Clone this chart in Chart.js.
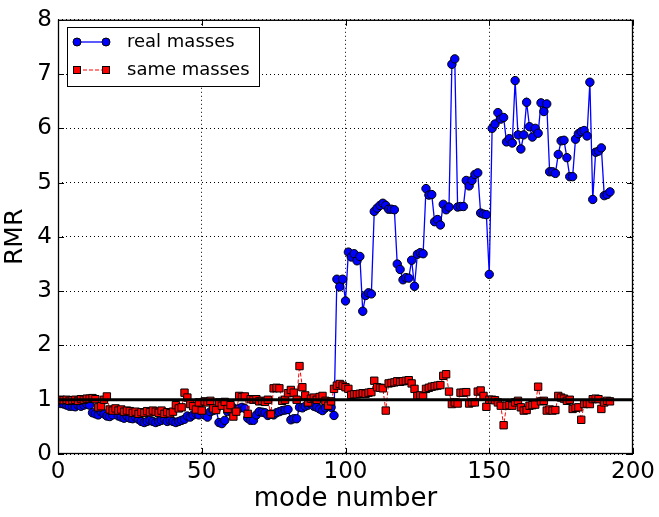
<!DOCTYPE html>
<html>
<head>
<meta charset="utf-8">
<script src="https://cdn.jsdelivr.net/npm/chart.js@4"></script>
<style>
  html, body { margin: 0; padding: 0; background: #fff; }
  #rmr { display: block; }
</style>
</head>
<body>
<canvas id="rmr" width="659" height="517"></canvas>
<script>
// mode index 1..192
const modes = Array.from({length: 192}, (_, i) => i + 1);

const realMasses = [
  0.93, 0.92, 0.90, 0.88, 0.88, 0.87, 0.90, 0.88, 0.90, 0.92,
  0.90, 0.76, 0.74, 0.72, 0.78, 0.74, 0.70, 0.69, 0.72, 0.82,
  0.70, 0.68, 0.66, 0.70, 0.66, 0.65, 0.68, 0.64, 0.60, 0.58,
  0.60, 0.62, 0.60, 0.58, 0.60, 0.62, 0.64, 0.60, 0.62, 0.60,
  0.58, 0.60, 0.62, 0.64, 0.70, 0.68, 0.72, 0.75, 0.72, 0.80,
  0.72, 0.68, 0.78, 0.80, 0.82, 0.58, 0.56, 0.62, 0.78, 0.80,
  0.85, 0.82, 0.84, 0.86, 0.84, 0.66, 0.62, 0.62, 0.72, 0.78,
  0.77, 0.76, 0.71, 0.74, 0.72, 0.76, 0.78, 0.80, 0.81, 0.82,
  0.63, 0.65, 0.65, 0.86, 0.85, 0.88, 0.90, 0.92, 0.88, 0.86,
  0.83, 0.80, 0.85, 0.88, 0.86, 0.71, 3.22, 3.08, 3.22, 2.82,
  3.72, 3.63, 3.69, 3.56, 3.64, 2.63, 2.92, 2.97, 2.95, 4.47,
  4.53, 4.58, 4.62, 4.58, 4.51, 4.51, 4.50, 3.50, 3.40, 3.21,
  3.25, 3.24, 3.57, 3.09, 3.68, 3.71, 3.69, 4.89, 4.77, 4.78,
  4.28, 4.32, 4.22, 4.60, 4.50, 4.55, 7.18, 7.28, 4.55, 4.56,
  4.56, 5.04, 4.94, 5.04, 5.15, 5.18, 4.44, 4.42, 4.41, 3.31,
  6.00, 6.08, 6.29, 6.17, 6.20, 5.75, 5.81, 5.73, 6.88, 5.88,
  5.62, 5.88, 6.48, 6.03, 5.84, 6.00, 5.91, 6.47, 6.31, 6.45,
  5.20, 5.20, 5.17, 5.52, 5.77, 5.78, 5.46, 5.11, 5.11, 5.80,
  5.90, 5.94, 5.96, 5.86, 6.85, 4.69, 5.56, 5.58, 5.64, 4.76,
  4.78, 4.83
];

const sameMasses = [
  1.00, 0.99, 1.00, 0.98, 0.99, 1.00, 0.98, 1.01, 1.00, 1.02,
  1.02, 1.03, 1.01, 0.86, 0.88, 1.00, 1.06, 0.82, 0.80, 0.84,
  0.80, 0.82, 0.78, 0.80, 0.79, 0.76, 0.78, 0.74, 0.77, 0.76,
  0.79, 0.77, 0.80, 0.78, 0.76, 0.80, 0.74, 0.77, 0.75, 0.78,
  0.90, 0.84, 0.86, 1.13, 1.04, 0.92, 0.88, 0.82, 0.95, 0.80,
  0.97, 0.95, 0.98, 0.84, 0.81, 0.95, 0.89, 0.96, 0.83, 0.90,
  0.69, 0.78, 1.07, 1.05, 1.06, 0.74, 1.01, 1.00, 1.01, 0.97,
  0.98, 0.96, 1.00, 0.73, 1.21, 1.22, 1.21, 0.98, 1.00, 1.12,
  1.18, 1.13, 1.00, 1.62, 1.23, 1.08, 0.95, 1.02, 1.04, 1.00,
  1.05, 1.07, 0.98, 0.89, 0.97, 1.20, 1.26, 1.29, 1.26, 1.23,
  1.20, 1.09, 1.10, 1.10, 1.11, 1.12, 1.11, 1.13, 1.14, 1.35,
  1.23, 1.22, 1.21, 0.80, 1.30, 1.31, 1.32, 1.34, 1.33, 1.34,
  1.35, 1.36, 1.30, 1.20, 1.07, 1.08, 1.06, 1.20, 1.22, 1.24,
  1.25, 1.26, 1.27, 1.44, 1.47, 1.15, 0.92, 0.95, 0.93, 1.13,
  1.13, 1.14, 0.93, 0.95, 0.95, 1.15, 1.17, 1.07, 0.87, 1.00,
  1.00, 0.99, 0.95, 0.89, 0.53, 0.89, 0.90, 0.89, 0.95, 0.98,
  0.86, 0.80, 0.81, 0.89, 0.90, 0.91, 1.24, 0.97, 0.98, 0.80,
  0.82, 0.80, 0.81, 1.07, 1.04, 1.02, 0.98, 1.00, 0.83, 0.85,
  0.86, 0.63, 0.92, 0.93, 0.92, 1.01, 1.02, 1.01, 0.83, 0.95,
  0.98, 0.97
];

const xTicks = [0, 50, 100, 150, 200];
const yTicks = [0, 1, 2, 3, 4, 5, 6, 7, 8];
const referenceLevel = 1;
const font = 'DejaVu Sans';

const toPoints = ys => modes.map((m, i) => ({x: m, y: ys[i]}));

// frame, inward ticks on all four sides, and the legend box
const framePlugin = {
  id: 'frame',
  afterDatasetsDraw(chart) {
    const {ctx, chartArea: a, scales: {x, y}} = chart;
    ctx.save();
    ctx.strokeStyle = '#000';
    ctx.lineWidth = 1;
    ctx.setLineDash([]);
    ctx.beginPath();
    xTicks.forEach(v => {
      const px = Math.round(x.getPixelForValue(v)) + 0.5;
      ctx.moveTo(px, a.bottom); ctx.lineTo(px, a.bottom - 6);
      ctx.moveTo(px, a.top); ctx.lineTo(px, a.top + 6);
    });
    yTicks.forEach(v => {
      const py = Math.round(y.getPixelForValue(v)) + 0.5;
      ctx.moveTo(a.left, py); ctx.lineTo(a.left + 6, py);
      ctx.moveTo(a.right, py); ctx.lineTo(a.right - 6, py);
    });
    ctx.stroke();
    ctx.lineWidth = 1.3;
    ctx.strokeRect(a.left + 0.5, a.top + 0.5, a.right - a.left - 1, a.bottom - a.top - 1);

    // legend
    const bx = 67, by = 27, bw = 192, bh = 59;
    ctx.fillStyle = '#fff';
    ctx.fillRect(bx, by, bw, bh);
    ctx.lineWidth = 1;
    ctx.strokeRect(bx + 0.5, by + 0.5, bw, bh);

    const x1 = 77, x2 = 106;
    // real masses
    let ly = 42;
    ctx.strokeStyle = '#0000ff';
    ctx.lineWidth = 1.3;
    ctx.beginPath(); ctx.moveTo(x1, ly); ctx.lineTo(x2, ly); ctx.stroke();
    [x1, x2].forEach(cx => {
      ctx.beginPath();
      ctx.arc(cx, ly, 4, 0, Math.PI * 2);
      ctx.fillStyle = '#0000ff'; ctx.fill();
      ctx.strokeStyle = '#000'; ctx.lineWidth = 1; ctx.stroke();
    });
    // same masses
    ly = 70;
    ctx.strokeStyle = '#ff0000';
    ctx.lineWidth = 1;
    ctx.setLineDash([4, 2]);
    ctx.beginPath(); ctx.moveTo(x1, ly); ctx.lineTo(x2, ly); ctx.stroke();
    ctx.setLineDash([]);
    [x1, x2].forEach(cx => {
      ctx.fillStyle = '#ff0000';
      ctx.fillRect(cx - 3.5, ly - 3.5, 7, 7);
      ctx.strokeStyle = '#000';
      ctx.strokeRect(cx - 3.5, ly - 3.5, 7, 7);
    });

    ctx.fillStyle = '#000';
    ctx.font = '18px "' + font + '"';
    ctx.textBaseline = 'middle';
    ctx.textAlign = 'left';
    ctx.fillText('real masses', 127, 42);
    ctx.fillText('same masses', 127, 70);
    ctx.restore();
  }
};

new Chart(document.getElementById('rmr'), {
  type: 'line',
  data: {
    datasets: [
      {
        label: 'reference',
        data: [{x: 0, y: referenceLevel}, {x: 200, y: referenceLevel}],
        borderColor: '#000',
        borderWidth: 3,
        pointRadius: 0,
        order: 1
      },
      {
        label: 'same masses',
        data: toPoints(sameMasses),
        borderColor: '#ff0000',
        borderWidth: 1,
        borderDash: [4, 2],
        pointStyle: 'rect',
        pointRadius: 5.2,
        pointBackgroundColor: '#ff0000',
        pointBorderColor: '#000',
        pointBorderWidth: 1,
        order: 2
      },
      {
        label: 'real masses',
        data: toPoints(realMasses),
        borderColor: '#0000ff',
        borderWidth: 1.3,
        pointStyle: 'circle',
        pointRadius: 4.2,
        pointBackgroundColor: '#0000ff',
        pointBorderColor: '#000',
        pointBorderWidth: 1,
        order: 3
      }
    ]
  },
  options: {
    responsive: false,
    animation: false,
    devicePixelRatio: 1,
    layout: { padding: { top: 15, right: 26, left: 0, bottom: 0 } },
    elements: { line: { tension: 0 } },
    plugins: { legend: { display: false }, tooltip: { enabled: false } },
    scales: {
      x: {
        type: 'linear',
        min: 0, max: 200,
        afterFit: s => { s.height = 63; },
        afterBuildTicks: s => { s.ticks = xTicks.map(v => ({value: v})); },
        grid: { color: '#000', lineWidth: 1, drawTicks: false },
        border: { display: false, dash: [1, 3] },
        ticks: { color: '#000', padding: 4, maxRotation: 0, font: { family: font, size: 23 } },
        title: { display: true, text: 'mode number', color: '#000', padding: { top: 0, bottom: 2 }, font: { family: font, size: 26 } }
      },
      y: {
        min: 0, max: 8,
        afterFit: s => { s.width = 58; },
        afterBuildTicks: s => { s.ticks = yTicks.map(v => ({value: v})); },
        grid: { color: '#000', lineWidth: 1, drawTicks: false },
        border: { display: false, dash: [1, 3] },
        ticks: { color: '#000', padding: 6, font: { family: font, size: 23 } },
        title: { display: true, text: 'RMR', color: '#000', padding: { top: 0, bottom: 4 }, font: { family: font, size: 25 } }
      }
    }
  },
  plugins: [framePlugin]
});
</script>
</body>
</html>
